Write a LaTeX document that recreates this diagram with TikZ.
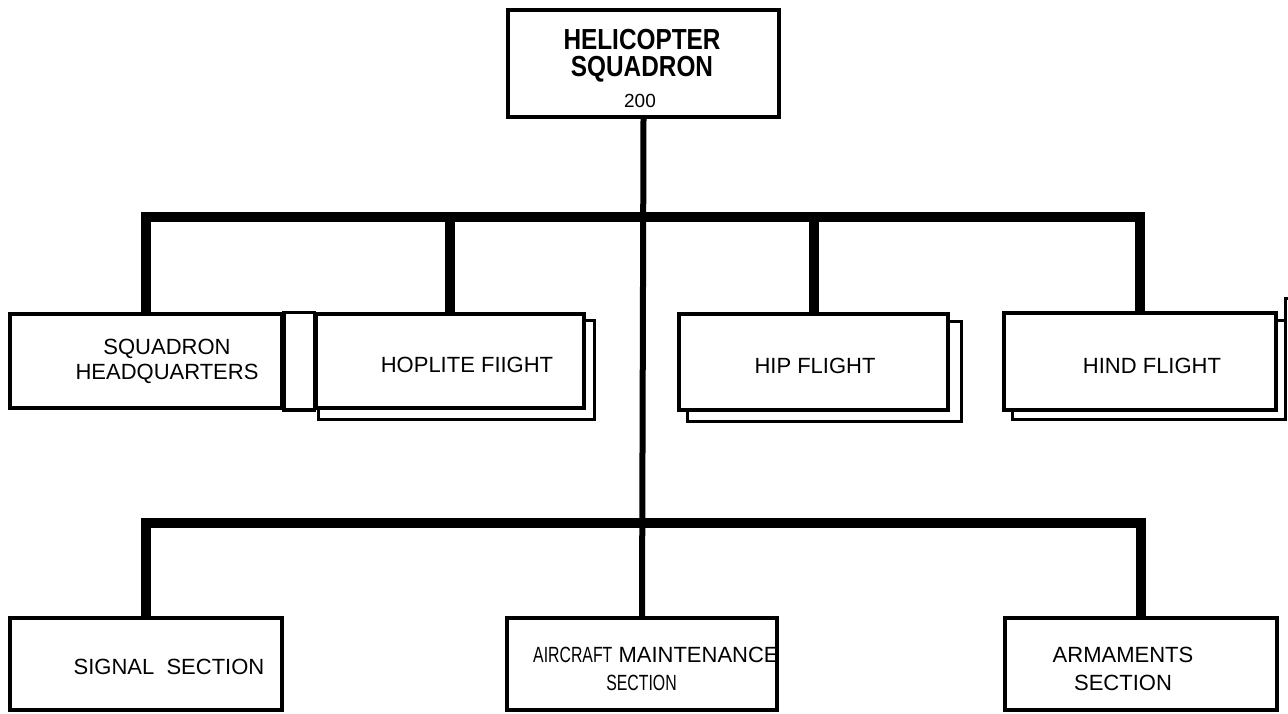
\documentclass[tikz,border=0pt]{standalone}
\usepackage{fontspec}
\setmainfont{Liberation Sans}
\usepackage{graphicx}
\usetikzlibrary{backgrounds}
\newcommand{\narrow}[2][0.72]{\scalebox{#1}[1]{#2}}

\begin{document}
\begin{tikzpicture}[x=1pt, y=-1pt,
    box/.style={draw, line width=3.5pt, fill=white, inner sep=0pt},
    shadowbox/.style={draw, line width=3pt, fill=white},
    bar/.style={line width=10pt},
    stem/.style={line width=6pt},
    lbl/.style={inner sep=0pt, align=center, font=\fontsize{22}{25}\selectfont}
]
    \useasboundingbox (0,0) rectangle (1288,714);

    % boxes
    \node[box, minimum width=271pt, minimum height=107pt] (sqn) at (643.5,63.5) {};
    \node[box, minimum width=272pt, minimum height=94pt] (hq) at (146,361) {};
    \node[box, minimum width=268pt, minimum height=94pt] (hop) at (450,361) {};
    \node[box, minimum width=269pt, minimum height=96pt] (hip) at (813.5,362) {};
    \node[box, minimum width=272pt, minimum height=97pt] (hind) at (1140,361.5) {};
    \node[box, minimum width=272pt, minimum height=92pt] (sig) at (146,664) {};
    \node[box, minimum width=270pt, minimum height=92pt] (acm) at (642,664) {};
    \node[box, minimum width=272pt, minimum height=92pt] (arm) at (1141,664) {};
    \draw[line width=3.5pt] (hq.north east) rectangle (hop.south west);

    % shadows behind the flights
    \begin{scope}[on background layer]
        \draw[shadowbox] ([shift={(4,8)}]hop.north west) rectangle ([shift={(9,10)}]hop.south east);
        \draw[shadowbox] ([shift={(10,9)}]hip.north west) rectangle ([shift={(12,10)}]hip.south east);
        \draw[shadowbox] ([shift={(10,9)}]hind.north west) rectangle ([shift={(8,8)}]hind.south east);
        \draw[line width=3pt] ([shift={(8,9)}]hind.north east) -- ([shift={(8,-13)}]hind.north east)
            -- ([shift={(12,-13)}]hind.north east);
    \end{scope}

    % connectors
    \coordinate (upbar) at (644,217);
    \coordinate (lobar) at (644,523);
    \draw[stem] (sqn.south) -- (acm.north);
    \draw[bar] (hq.north) |- (upbar) -| (hind.north);
    \draw[bar] (hop.north) -- (hop.north |- upbar);
    \draw[bar] (hip.north) -- (hip.north |- upbar);
    \draw[bar] (sig.north) |- (lobar) -| (arm.north);

    % labels
    \node[lbl, font=\fontsize{29}{29}\selectfont\bfseries, anchor=base] (helo) at (642,50) {\narrow[0.84]{HELICOPTER}};
    \node[lbl, font=\fontsize{29}{29}\selectfont\bfseries, anchor=base] (sqd) at (642,77) {\narrow[0.84]{SQUADRON}};
    \node[lbl, font=\fontsize{19}{19}\selectfont, anchor=base] (num) at (640,108) {200};
    \node[lbl] (hqtxt) at (167,361) {SQUADRON\\HEADQUARTERS};
    \node[lbl] (hoptxt) at (467,364.5) {HOPLITE FIIGHT};
    \node[lbl] (hiptxt) at (815,366) {HIP FLIGHT};
    \node[lbl] (hindtxt) at (1152,366) {HIND FLIGHT};
    \node[lbl] (sigtxt) at (169,667) {SIGNAL\ \ SECTION};
    \node[lbl, anchor=base west] (acmtxt) at (533,662) {\narrow{AIRCRAFT} MAINTENANCE};
    \node[lbl, anchor=base] (acmsec) at (641.5,690) {\narrow{SECTION}};
    \node[lbl, font=\fontsize{22}{28}\selectfont] (armtxt) at (1123,668.5) {ARMAMENTS\\SECTION};
\end{tikzpicture}
\end{document}
